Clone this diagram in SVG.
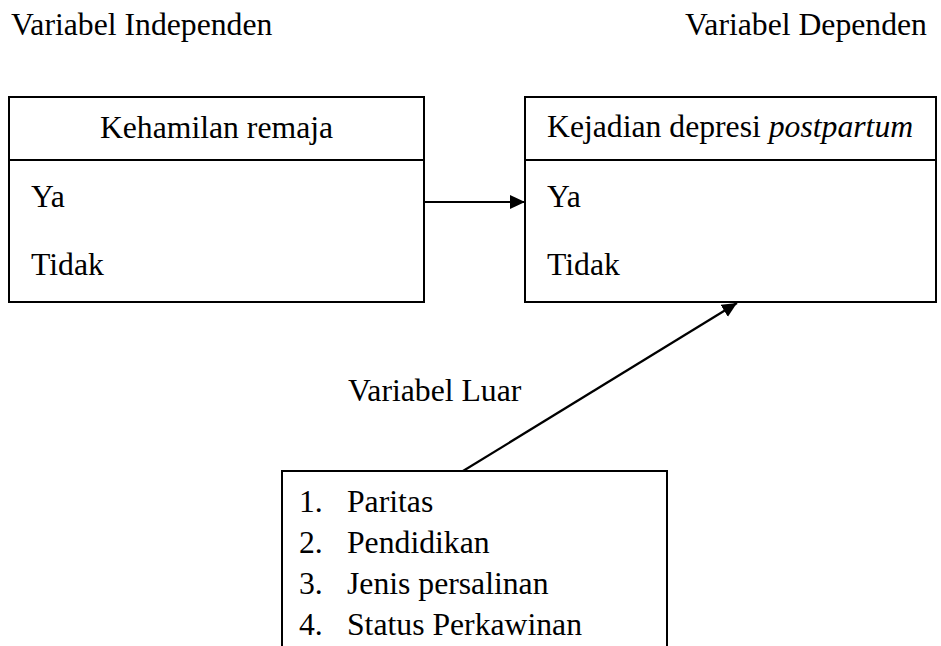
<svg xmlns="http://www.w3.org/2000/svg" width="941" height="646" viewBox="0 0 941 646">
<style>
text{font-family:"Liberation Serif","Times New Roman",serif;font-size:31.7px;fill:#000}
.box{fill:#fff;stroke:#000;stroke-width:2}
.div{stroke:#000;stroke-width:2}
.conn{stroke:#000;stroke-width:2.2;fill:none}
</style>
<defs>
<marker id="ah" markerUnits="userSpaceOnUse" markerWidth="16" markerHeight="15" refX="15" refY="7" orient="auto">
<path d="M0,0 L15,7 L0,14 z" fill="#000"/>
</marker>
</defs>
<rect width="941" height="646" fill="#fff"/>
<text x="11" y="35">Variabel Independen</text>
<text x="685" y="35">Variabel Dependen</text>
<text x="348" y="401">Variabel Luar</text>
<g id="connectors">
<line class="conn" x1="424" y1="202" x2="525" y2="202" marker-end="url(#ah)"/>
<line class="conn" x1="463" y1="471" x2="737" y2="303" marker-end="url(#ah)"/>
</g>
<g id="kehamilan">
<rect class="box" x="9" y="97" width="415" height="205"/>
<line class="div" x1="9" y1="160" x2="424" y2="160"/>
<text x="216.5" y="138" text-anchor="middle">Kehamilan remaja</text>
<text x="31" y="207">Ya</text>
<text x="31" y="275">Tidak</text>
</g>
<g id="depresi">
<rect class="box" x="525" y="97" width="411" height="205"/>
<line class="div" x1="525" y1="160" x2="936" y2="160"/>
<text x="547" y="137">Kejadian depresi <tspan font-style="italic">postpartum</tspan></text>
<text x="547" y="207">Ya</text>
<text x="547" y="275">Tidak</text>
</g>
<g id="luar">
<path class="box" d="M282,660 L282,471 L667,471 L667,660"/>
<text x="299" y="512">1.</text><text x="347" y="512">Paritas</text>
<text x="299" y="553">2.</text><text x="347" y="553">Pendidikan</text>
<text x="299" y="594">3.</text><text x="347" y="594">Jenis persalinan</text>
<text x="299" y="635">4.</text><text x="347" y="635">Status Perkawinan</text>
</g>
</svg>
